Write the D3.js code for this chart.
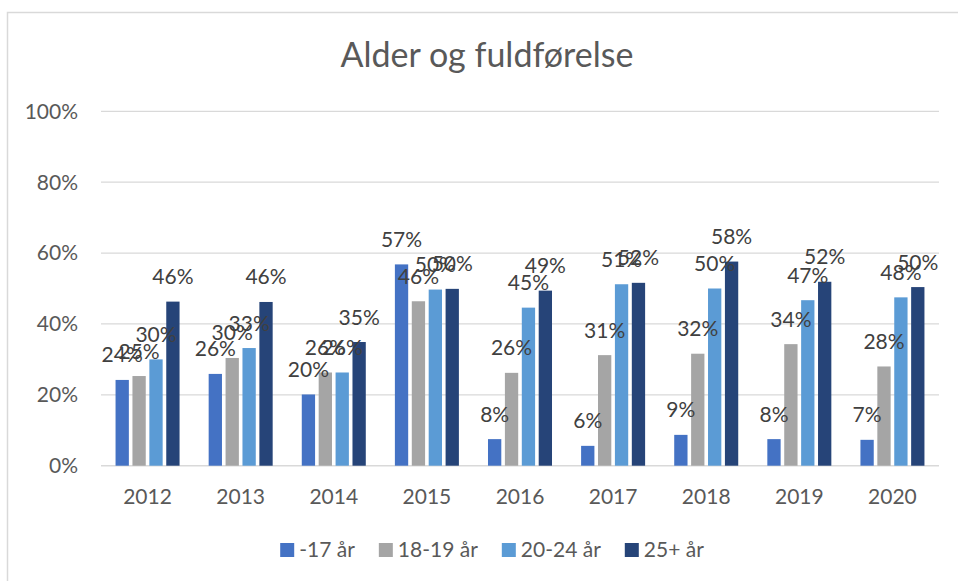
<!DOCTYPE html>
<html>
<head>
<meta charset="utf-8">
<script src="https://cdn.jsdelivr.net/npm/d3@7"></script>
<style>
  body { margin: 0; background: #fff; }
  text { font-family: Lato, "Open Sans", sans-serif; fill: #595959; }
</style>
</head>
<body>
<div id="chart"></div>
<script>
var years = ["2012", "2013", "2014", "2015", "2016", "2017", "2018", "2019", "2020"];
var seriesNames = ["-17 år", "18-19 år", "20-24 år", "25+ år"];
var seriesColors = ["#4472C4", "#A5A5A5", "#5B9BD5", "#264478"];
// bar heights (fractions)
var under17 = [0.242, 0.259, 0.201, 0.568, 0.075, 0.056, 0.087, 0.075, 0.073];
var age1819 = [0.253, 0.304, 0.263, 0.464, 0.262, 0.312, 0.316, 0.343, 0.280];
var age2024 = [0.300, 0.332, 0.263, 0.497, 0.446, 0.512, 0.500, 0.467, 0.475];
var age25 = [0.463, 0.462, 0.349, 0.499, 0.494, 0.516, 0.576, 0.519, 0.504];
var yTicks = [0, 0.2, 0.4, 0.6, 0.8, 1.0];

var width = 958, height = 581;
var plot = { left: 101, right: 939, top: 111.3, bottom: 465.7 };

var svg = d3.select("#chart").append("svg")
    .attr("width", width)
    .attr("height", height);

// chart frame (only left and top edge are in view)
svg.append("path")
    .attr("d", "M7.5," + height + "V12.5H" + width)
    .attr("fill", "none")
    .attr("stroke", "#D9D9D9")
    .attr("stroke-width", 1.5);

svg.append("text")
    .attr("x", 487)
    .attr("y", 67)
    .attr("text-anchor", "middle")
    .style("font-size", "34px")
    .text("Alder og fuldførelse");

var x0 = d3.scaleBand()
    .domain(years)
    .range([plot.left, plot.right]);

var x1 = d3.scaleBand()
    .domain(seriesNames)
    .range([0, x0.bandwidth()])
    .paddingInner(0.213)
    .paddingOuter(0.861);

var y = d3.scaleLinear()
    .domain([0, 1])
    .range([plot.bottom, plot.top]);

// gridlines
svg.append("g")
    .selectAll("line")
    .data(yTicks)
    .enter().append("line")
    .attr("x1", plot.left)
    .attr("x2", plot.right)
    .attr("y1", function (d) { return y(d); })
    .attr("y2", function (d) { return y(d); })
    .attr("stroke", "#D9D9D9")
    .attr("stroke-width", function (d) { return d === 0 ? 1.5 : 1.2; });

svg.append("g")
    .selectAll("text")
    .data(yTicks)
    .enter().append("text")
    .attr("x", 78)
    .attr("y", function (d) { return y(d); })
    .attr("dy", "0.35em")
    .attr("text-anchor", "end")
    .style("font-size", "21px")
    .text(d3.format(".0%"));

svg.append("g")
    .selectAll("text")
    .data(years)
    .enter().append("text")
    .attr("x", function (d) { return x0(d) + x0.bandwidth() / 2; })
    .attr("y", 504)
    .attr("text-anchor", "middle")
    .style("font-size", "21px")
    .text(function (d) { return d; });

var allSeries = [under17, age1819, age2024, age25];
var cells = [];
years.forEach(function (yr, i) {
    seriesNames.forEach(function (s, j) {
        cells.push({ year: yr, series: s, color: seriesColors[j], value: allSeries[j][i] });
    });
});

svg.append("g")
    .selectAll("rect")
    .data(cells)
    .enter().append("rect")
    .attr("x", function (d) { return x0(d.year) + x1(d.series); })
    .attr("y", function (d) { return y(d.value); })
    .attr("width", x1.bandwidth())
    .attr("height", function (d) { return y(0) - y(d.value); })
    .attr("fill", function (d) { return d.color; });

// data labels, drawn after all bars so they overlap like the original
svg.append("g")
    .selectAll("text")
    .data(cells)
    .enter().append("text")
    .attr("x", function (d) { return x0(d.year) + x1(d.series) + x1.bandwidth() / 2; })
    .attr("y", function (d) { return y(d.value) - 17.5; })
    .attr("text-anchor", "middle")
    .style("font-size", "21px")
    .style("fill", "#404040")
    .text(function (d) { return Math.round(d.value * 100) + "%"; });

// legend
var legend = svg.append("g");
var items = legend.selectAll("g")
    .data(seriesNames)
    .enter().append("g");
items.append("rect")
    .attr("width", 14)
    .attr("height", 14)
    .attr("y", 543)
    .attr("fill", function (d, i) { return seriesColors[i]; });
items.append("text")
    .attr("x", 19)
    .attr("y", 557)
    .style("font-size", "21px")
    .text(function (d) { return d; });

var pos = 0;
var offsets = [];
items.each(function () {
    offsets.push(pos);
    pos += 19 + d3.select(this).select("text").node().getComputedTextLength() + 24;
});
var total = pos - 24;
var start = 492 - total / 2;
items.attr("transform", function (d, i) { return "translate(" + (start + offsets[i]) + ",0)"; });
</script>
</body>
</html>
